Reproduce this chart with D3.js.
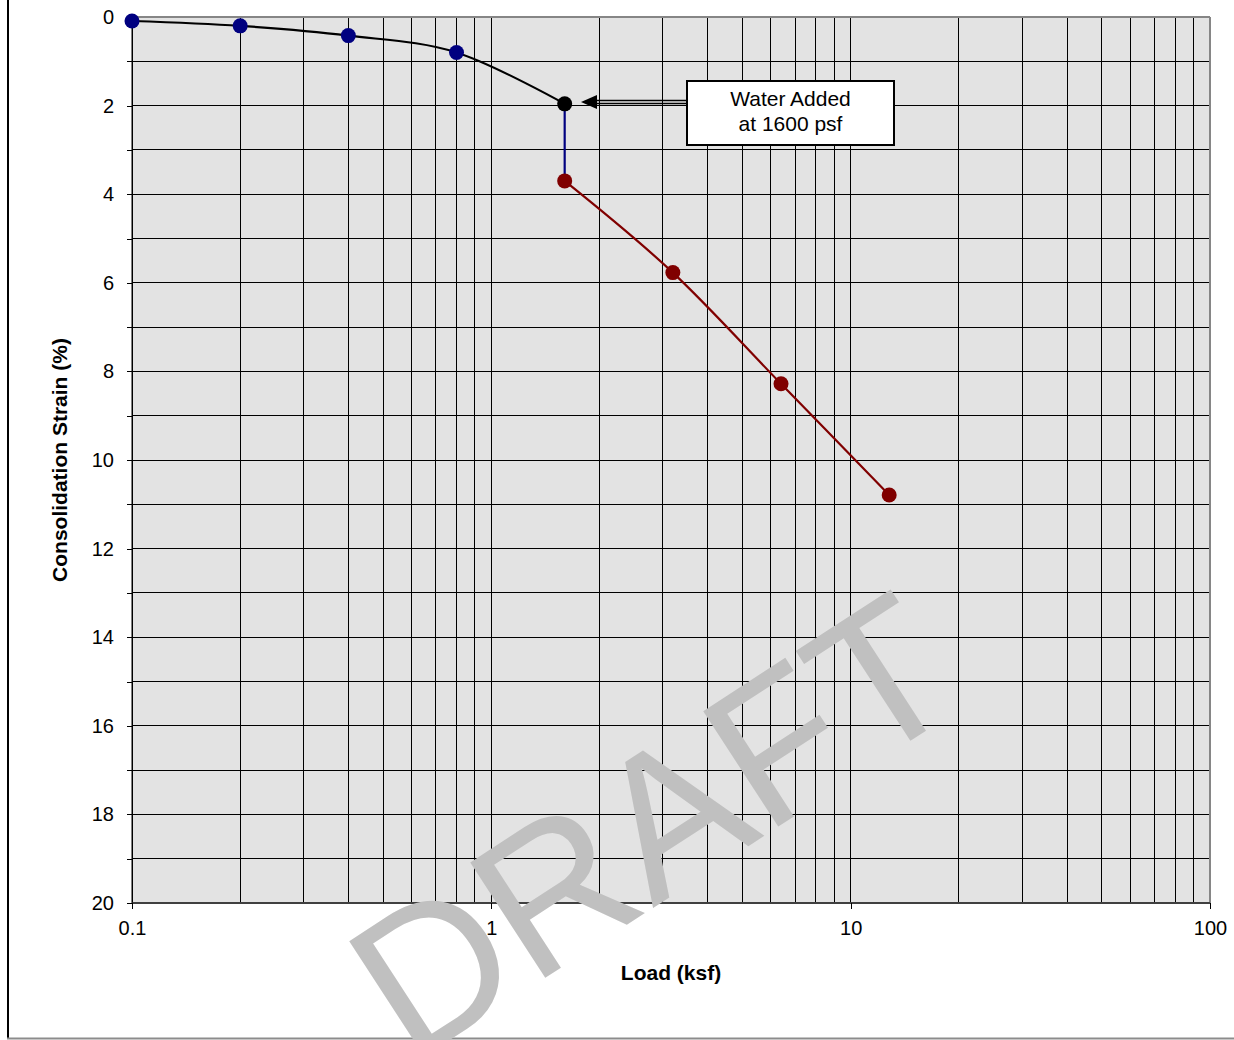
<!DOCTYPE html>
<html>
<head>
<meta charset="utf-8">
<script src="https://cdn.jsdelivr.net/npm/d3@7"></script>
<style>
body { margin: 0; background: #fff; }
text { font-family: "Liberation Sans", Arial, sans-serif; }
</style>
</head>
<body>
<div id="chart"></div>
<script>
// load (ksf) and strain (%)
var loadDry = [0.1, 0.2, 0.4, 0.8, 1.6]
var strainDry = [0.09, 0.20, 0.42, 0.80, 1.96]
var loadWet = [1.6, 3.2, 6.4, 12.8]
var strainWet = [3.70, 5.77, 8.28, 10.79]
var xTickLabels = [0.1, 1, 10, 100]
var yTickValues = d3.range(0, 21)
var noteLines = ["Water Added", "at 1600 psf"]

const svgWidth = 1234
const svgHeight = 1040
var plotLeft = 132, plotRight = 1210, plotTop = 17, plotBottom = 903

var svg = d3.select("#chart")
    .append("svg")
    .attr("width", svgWidth)
    .attr("height", svgHeight)

var x = d3.scaleLog().domain([0.1, 100]).range([plotLeft, plotRight])
var y = d3.scaleLinear().domain([0, 20]).range([plotTop, plotBottom])

// outer frame (only left and bottom edges are visible)
svg.append("line").attr("x1", 8).attr("x2", 8).attr("y1", 0).attr("y2", 1039)
    .style("stroke", "#000").style("stroke-width", 2)
svg.append("line").attr("x1", 7).attr("x2", svgWidth).attr("y1", 1038.5).attr("y2", 1038.5)
    .style("stroke", "#8c8c8c").style("stroke-width", 2)

// plot background
svg.append("rect")
    .attr("x", plotLeft).attr("y", plotTop)
    .attr("width", plotRight - plotLeft).attr("height", plotBottom - plotTop)
    .style("fill", "#e3e3e3")

// gridlines
svg.append("g").selectAll("line")
    .data(x.ticks())
    .enter()
    .append("line")
    .attr("x1", d => x(d)).attr("x2", d => x(d))
    .attr("y1", plotTop).attr("y2", plotBottom)
    .style("stroke", "#000").style("stroke-width", 1)
    .style("shape-rendering", "crispEdges")

svg.append("g").selectAll("line")
    .data(yTickValues)
    .enter()
    .append("line")
    .attr("x1", plotLeft).attr("x2", plotRight)
    .attr("y1", d => y(d)).attr("y2", d => y(d))
    .style("stroke", "#000").style("stroke-width", 1)
    .style("shape-rendering", "crispEdges")

// plot border
svg.append("line").attr("x1", plotLeft).attr("x2", plotRight).attr("y1", plotTop).attr("y2", plotTop)
    .style("stroke", "#868686").style("stroke-width", 2)
svg.append("line").attr("x1", plotRight).attr("x2", plotRight).attr("y1", plotTop).attr("y2", plotBottom)
    .style("stroke", "#868686").style("stroke-width", 2)
svg.append("line").attr("x1", plotLeft).attr("x2", plotRight).attr("y1", plotBottom).attr("y2", plotBottom)
    .style("stroke", "#404040").style("stroke-width", 2)
svg.append("line").attr("x1", plotLeft).attr("x2", plotLeft).attr("y1", plotTop).attr("y2", plotBottom)
    .style("stroke", "#000").style("stroke-width", 1)

// axes
var yAxis = d3.axisLeft(y)
    .tickValues(yTickValues)
    .tickFormat(d => d % 2 ? "" : d)
    .tickSizeInner(5).tickSizeOuter(0).tickPadding(13)
var gy = svg.append("g").attr("transform", "translate(" + plotLeft + ",0)").call(yAxis)
gy.select(".domain").remove()
gy.selectAll("line").style("shape-rendering", "crispEdges")
gy.selectAll("text").style("font-size", "20px").style("fill", "#000")

var xAxis = d3.axisBottom(x)
    .tickValues(xTickLabels)
    .tickFormat(d => d)
    .tickSizeInner(6).tickSizeOuter(0).tickPadding(12)
var gx = svg.append("g").attr("transform", "translate(0," + plotBottom + ")").call(xAxis)
gx.select(".domain").remove()
gx.selectAll("line").style("shape-rendering", "crispEdges")
gx.selectAll("text").style("font-size", "20px").style("fill", "#000")

// axis titles
svg.append("text")
    .attr("x", (plotLeft + plotRight) / 2).attr("y", 980)
    .attr("text-anchor", "middle")
    .style("font-size", "21px").style("font-weight", "bold")
    .text("Load (ksf)")

svg.append("text")
    .attr("transform", "translate(67," + (plotTop + plotBottom) / 2 + ") rotate(-90)")
    .attr("text-anchor", "middle")
    .style("font-size", "21px").style("font-weight", "bold")
    .text("Consolidation Strain (%)")

// curves
var dry = loadDry.map((d, i) => [d, strainDry[i]])
var wet = loadWet.map((d, i) => [d, strainWet[i]])
var line = d3.line()
    .x(d => x(d[0])).y(d => y(d[1]))
    .curve(d3.curveCatmullRom.alpha(0))

svg.append("path").datum(dry).attr("d", line)
    .style("fill", "none").style("stroke", "#000").style("stroke-width", 2.2)
svg.append("path").datum(wet).attr("d", line)
    .style("fill", "none").style("stroke", "#800000").style("stroke-width", 2.2)
svg.append("path").datum([dry[dry.length - 1], wet[0]]).attr("d", d3.line().x(d => x(d[0])).y(d => y(d[1])))
    .style("fill", "none").style("stroke", "#000080").style("stroke-width", 2.2)

svg.append("g").selectAll("circle")
    .data(dry)
    .enter()
    .append("circle")
    .attr("cx", d => x(d[0])).attr("cy", d => y(d[1])).attr("r", 7.5)
    .style("fill", (d, i) => i == dry.length - 1 ? "#000" : "#000080")

svg.append("g").selectAll("circle")
    .data(wet)
    .enter()
    .append("circle")
    .attr("cx", d => x(d[0])).attr("cy", d => y(d[1])).attr("r", 7.5)
    .style("fill", "#800000")

// annotation
var arrowY = 102
svg.append("line").attr("x1", 594).attr("x2", 687).attr("y1", arrowY - 1.5).attr("y2", arrowY - 1.5)
    .style("stroke", "#000").style("stroke-width", 1.4)
svg.append("line").attr("x1", 594).attr("x2", 687).attr("y1", arrowY + 1.5).attr("y2", arrowY + 1.5)
    .style("stroke", "#000").style("stroke-width", 1.4)
svg.append("path")
    .attr("d", "M581," + arrowY + "L597," + (arrowY - 7) + "L597," + (arrowY + 7) + "Z")
    .style("fill", "#000")

svg.append("rect")
    .attr("x", 687).attr("y", 81).attr("width", 207).attr("height", 64)
    .style("fill", "#fff").style("stroke", "#000").style("stroke-width", 2)
svg.append("g").selectAll("text")
    .data(noteLines)
    .enter()
    .append("text")
    .attr("x", 790.5).attr("y", (d, i) => 106 + i * 24.5)
    .attr("text-anchor", "middle")
    .style("font-size", "21px")
    .text(d => d)

// watermark
svg.append("text")
    .attr("transform", "translate(690,884) rotate(-33)")
    .attr("text-anchor", "middle")
    .style("font-size", "200px")
    .style("fill", "#c0c0c0")
    .text("DRAFT")
</script>
</body>
</html>
